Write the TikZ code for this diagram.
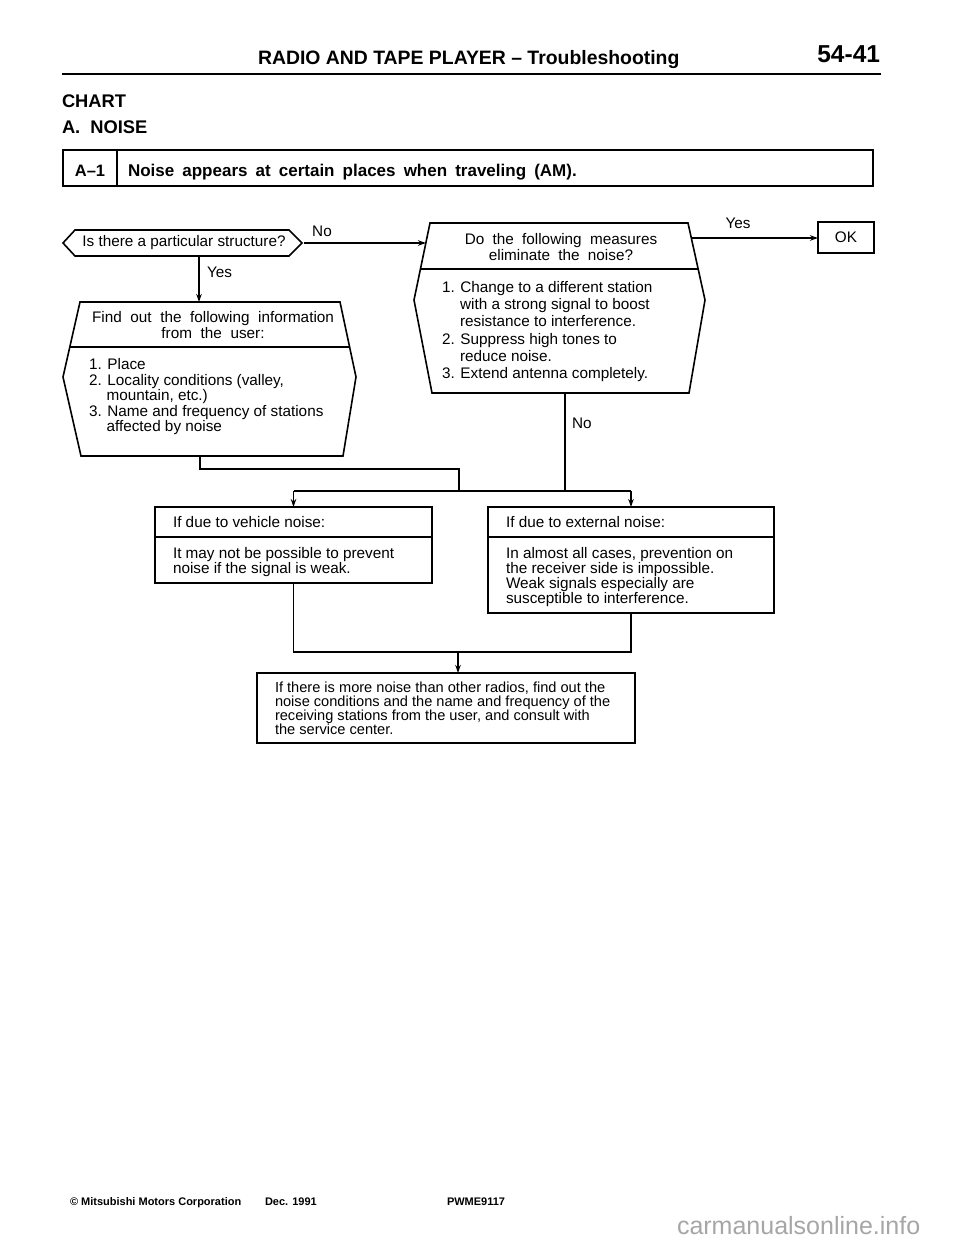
\documentclass[tikz,border=0pt]{standalone}
\usepackage{fontspec}
\setmainfont{Liberation Sans}
\usetikzlibrary{calc,arrows.meta}
\begin{document}
\begin{tikzpicture}[x=1pt,y=-1pt,
  every node/.style={inner sep=0pt, outer sep=0pt},
  txt/.style={font=\fontsize{15.3}{15}\selectfont, align=left, anchor=north west},
  ttl/.style={font=\fontsize{15.3}{15.5}\selectfont, align=center, anchor=north},
  lbl/.style={font=\fontsize{15.3}{15}\selectfont},
  box/.style={draw, line width=1.6pt},
  outl/.style={draw, line width=1.6pt, line join=miter},
  divl/.style={line width=1.5pt},
  conn/.style={line width=1.4pt},
  arr/.style={conn, -{Stealth[length=8pt,width=5.5pt]}},
  hd/.style={font=\bfseries\fontsize{#1}{#1}\selectfont, anchor=base west},
]
\useasboundingbox (0,0) rectangle (960,1239);
\fill[white] (0,0) rectangle (960,1239);

% header
\node[hd=19.4] (hdr) at (258,65) {RADIO AND TAPE PLAYER – Troubleshooting};
\node[hd=24.5, anchor=base east] (pg) at (880,63) {54-41};
\draw[line width=2.5pt] (62,74) -- (881,74);
\node[hd=18.3] (chart) at (62,107) {CHART};
\node[hd=18.3] (noise) at (62,133) {A.~~NOISE};

% A-1 box
\node[draw, line width=1.8pt, minimum width=810, minimum height=36, anchor=north west] (a1) at (63,150) {};
\draw[line width=1.8pt] ([xshift=54pt]a1.north west) -- ([xshift=54pt]a1.south west);
\node[hd=16.5, anchor=base] (a1n) at (90,176) {A–1};
\node[hd=17] (a1t) at (128,176) {\spaceskip=8.1pt Noise appears at certain places when traveling (AM).};

% decision hexagon
\draw[outl] (63,243) -- (75,230) -- (289,230) -- (302,243) -- (289,256) -- (75,256) -- cycle;
\node[lbl, minimum width=239, minimum height=26] (q1) at (184,243) {Is there a particular structure?};

% find out box
\draw[outl] (80,302) -- (340,302) -- (356,377) -- (343,456) -- (81,456) -- (63,377) -- cycle;
\draw[divl] (70,347) -- (349.6,347);
\node[minimum width=293, minimum height=154] (find) at (209.5,379) {};
\node[ttl] (findT) at (213,311.5) {\spaceskip=8.6pt Find out the following information\\\spaceskip=8.6pt from the user:};
\node[txt, font=\fontsize{15.3}{15.5}\selectfont] (findL) at (89,358.5) {1. Place\\
2. Locality conditions (valley,\\
\hspace*{1.15em}mountain, etc.)\\
3. Name and frequency of stations\\
\hspace*{1.15em}affected by noise};

% do the following box
\draw[outl] (430,223) -- (688,223) -- (705,300) -- (689,393) -- (432,393) -- (414,300) -- cycle;
\draw[divl] (420.4,269) -- (698,269);
\node[minimum width=291, minimum height=170] (do) at (559.5,308) {};
\node[ttl] (doT) at (561,233.5) {\spaceskip=8.3pt Do the following measures\\\spaceskip=8.3pt eliminate the noise?};
\node[txt, font=\fontsize{15.3}{17.2}\selectfont] (doL) at (442,281.5) {1. Change to a different station\\
\hspace*{1.18em}with a strong signal to boost\\
\hspace*{1.18em}resistance to interference.\\
2. Suppress high tones to\\
\hspace*{1.18em}reduce noise.\\
3. Extend antenna completely.};

% OK box
\node[box, minimum width=56, minimum height=31, lbl] (ok) at (846,237.5) {OK};

% vehicle / external boxes
\node[box, minimum width=277, minimum height=76, anchor=north west] (veh) at (155,507) {};
\draw[divl] ([yshift=-30pt]veh.north west) -- ([yshift=-30pt]veh.north east);
\node[txt] (vehT) at (173,516.5) {If due to vehicle noise:};
\node[txt] (vehB) at (173,547.5) {It may not be possible to prevent\\noise if the signal is weak.};

\node[box, minimum width=286, minimum height=106, anchor=north west] (ext) at (488,507) {};
\draw[divl] ([yshift=-30pt]ext.north west) -- ([yshift=-30pt]ext.north east);
\node[txt] (extT) at (506,516.5) {If due to external noise:};
\node[txt] (extB) at (506,547.5) {In almost all cases, prevention on\\the receiver side is impossible.\\Weak signals especially are\\susceptible to interference.};

% final box
\node[box, minimum width=378, minimum height=70, anchor=north west] (fin) at (257,673) {};
\node[txt, font=\fontsize{14.6}{14.2}\selectfont] (finT) at (275,681.8) {If there is more noise than other radios, find out the\\noise conditions and the name and frequency of the\\receiving stations from the user, and consult with\\the service center.};

% connector coordinates
\coordinate (doin) at (426,243);
\coordinate (doyes) at (691,238);
\coordinate (fout) at (200,456);
\coordinate (fj) at (459,469);
\coordinate (dono) at (565,393);
\coordinate (jl) at (293.5,491);
\coordinate (jr) at (631,491);
\coordinate (bj) at (458,652);

% connectors
\draw[arr] (q1.east) -- (doin);
\node[lbl] (noA) at (322,231) {No};
\draw[arr] (doyes) -- (doyes -| ok.west);
\node[lbl] (yesA) at (738,223) {Yes};
\draw[arr] ([xshift=15pt]q1.south) -- ([xshift=15pt]q1.south |- find.north);
\node[lbl, anchor=west] (yesB) at (207,272) {Yes};
\draw[conn] (fout) |- (fj) -- (fj |- jl);
\draw[conn] (dono) -- (dono |- jl);
\node[lbl, anchor=west] (noB) at (572,423) {No};
\draw[conn] (jl) -- (jr);
\draw[arr] (jl) -- (veh.north);
\draw[arr] (jr) -- (ext.north);
\draw[conn] (veh.south) |- (bj);
\draw[conn] (ext.south) |- (bj);
\draw[arr] (bj) -- (bj |- fin.north);

% footer
\node[hd=11] (f1) at (70,1205) {© Mitsubishi Motors Corporation};
\node[hd=11] (f2) at (265,1205) {Dec. 1991};
\node[hd=11] (f3) at (447,1205) {PWME9117};
\node[anchor=west, font=\fontsize{25}{26}\selectfont, text=black!35] (wm) at (677,1226) {carmanualsonline.info};
\end{tikzpicture}
\end{document}
